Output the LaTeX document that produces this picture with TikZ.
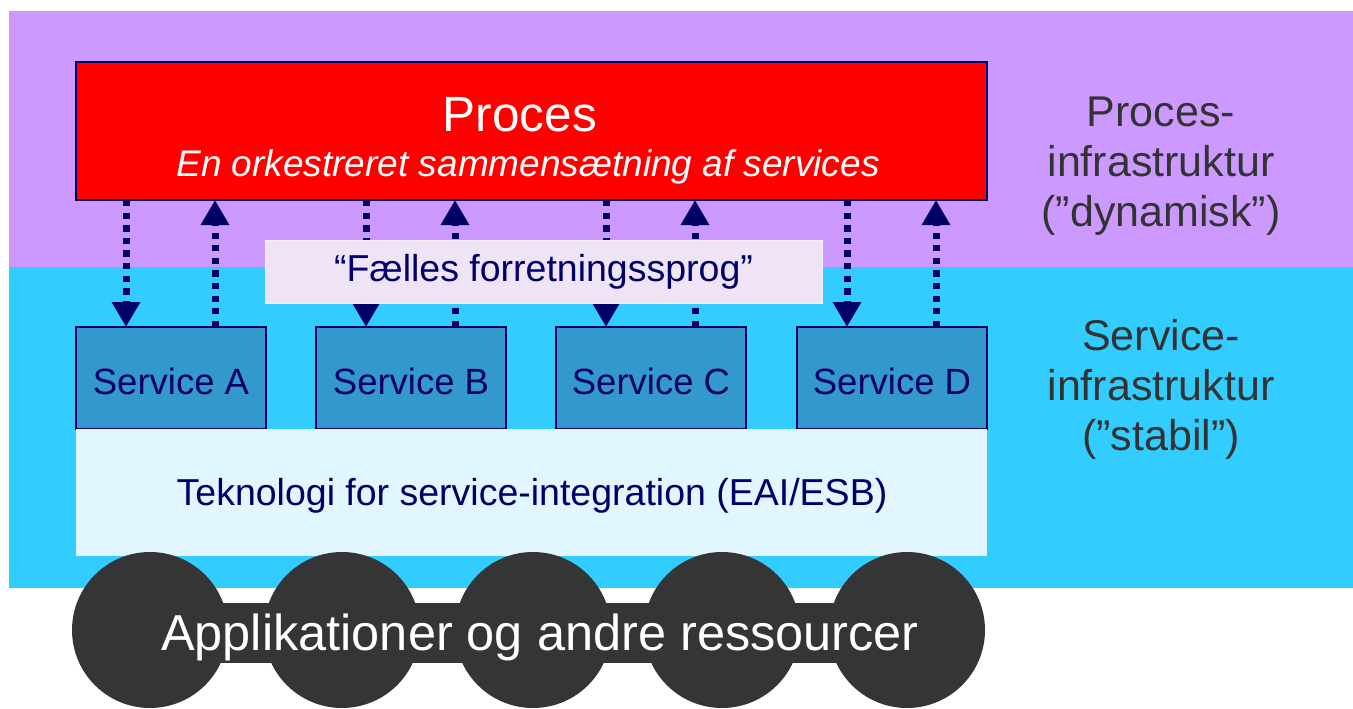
\documentclass[tikz,border=0pt]{standalone}
\usepackage{fontspec}
\setmainfont{Liberation Sans}
\usetikzlibrary{arrows.meta,calc}
\definecolor{bandpurple}{HTML}{CC99FF}
\definecolor{bandcyan}{HTML}{33CCFF}
\definecolor{navy}{HTML}{000066}
\definecolor{svcblue}{HTML}{3399CC}
\definecolor{langbox}{HTML}{EEE4F5}
\definecolor{techbox}{HTML}{E1F6FE}
\definecolor{darkres}{HTML}{353535}
\definecolor{sidetext}{HTML}{333333}
\tikzset{
  svcbox/.style={draw=navy, line width=1.5pt, fill=svcblue, minimum width=190pt, minimum height=102pt, inner sep=0pt, outer sep=0pt},
  svclabel/.style={text=navy, font=\fontsize{36.5}{43}\selectfont},
  resdisc/.style={circle, fill=darkres, minimum size=156pt, inner sep=0pt, outer sep=0pt},
  flowline/.style={navy, line width=7pt, dash pattern=on 6.3pt off 6.3pt, -{Triangle[length=25pt,width=27pt]}},
  sidelabel/.style={text=sidetext, align=center, font=\fontsize{43}{50}\selectfont}
}
\begin{document}
\begin{tikzpicture}[x=1pt,y=-1pt]
\useasboundingbox (0,0) rectangle (1353,709);
% bands
\fill[bandpurple] (9,11) rectangle (1353,267);
\fill[bandcyan] (9,267) rectangle (1353,588);
% process box
\node[draw=navy, line width=2pt, fill=red, minimum width=911pt, minimum height=138pt, inner sep=0pt, outer sep=0pt] (proc) at (531.5,131) {};
\node[text=white, font=\fontsize{49.5}{58}\selectfont] (proctitle) at (520,115) {Proces};
\node[text=white, font=\fontsize{37}{44}\selectfont\itshape] (procsub) at (528,167) {En orkestreret sammensætning af services};
% services
\node[svcbox] (svcA) at (171,378) {};
\node[svcbox] (svcB) at (411,378) {};
\node[svcbox] (svcC) at (651,378) {};
\node[svcbox] (svcD) at (892,378) {};
\node[svclabel] (labA) at ([yshift=-3pt]svcA.center) {Service A};
\node[svclabel] (labB) at ([yshift=-3pt]svcB.center) {Service B};
\node[svclabel] (labC) at ([yshift=-3pt]svcC.center) {Service C};
\node[svclabel] (labD) at ([yshift=-3pt]svcD.center) {Service D};
% connectors
\foreach \s in {svcA,svcB,svcC,svcD}{
  \draw[flowline] ([xshift=-45pt]\s.north |- proc.south) -- ([xshift=-45pt]\s.north);
  \draw[flowline] ([xshift=44pt]\s.north) -- ([xshift=44pt]\s.north |- proc.south);
}
% common language box
\node[fill=langbox, draw=langbox!60!white, line width=0.8pt, minimum width=557pt, minimum height=63pt, inner sep=0pt, text=navy, font=\fontsize{37.5}{44}\selectfont] (lang) at (543.5,271.5) {“Fælles forretningssprog”};
% technology box
\node[fill=techbox, minimum width=911pt, minimum height=127pt, inner sep=0pt, outer sep=0pt] (tech) at (531.5,492.5) {};
\node[text=navy, font=\fontsize{37.5}{44}\selectfont] (techlabel) at (532,496) {Teknologi for service-integration (EAI/ESB)};
% resources
\node[resdisc] (r1) at (150,630) {};
\node[resdisc] (r2) at (342,630) {};
\node[resdisc] (r3) at (533,630) {};
\node[resdisc] (r4) at (722,630) {};
\node[resdisc] (r5) at (907,630) {};
\fill[darkres] ([yshift=27pt]r1.center) rectangle ([yshift=-33pt]r5.center);
\node[text=white, font=\fontsize{50.5}{60}\selectfont] (reslabel) at (540,637) {Applikationer og andre ressourcer};
% side labels
\node[sidelabel] (sideproc) at (1161,166) {Proces-\\infrastruktur\\(”dynamisk”)};
\node[sidelabel] (sidesvc) at (1161,389) {Service-\\infrastruktur\\(”stabil”)};
\end{tikzpicture}
\end{document}
